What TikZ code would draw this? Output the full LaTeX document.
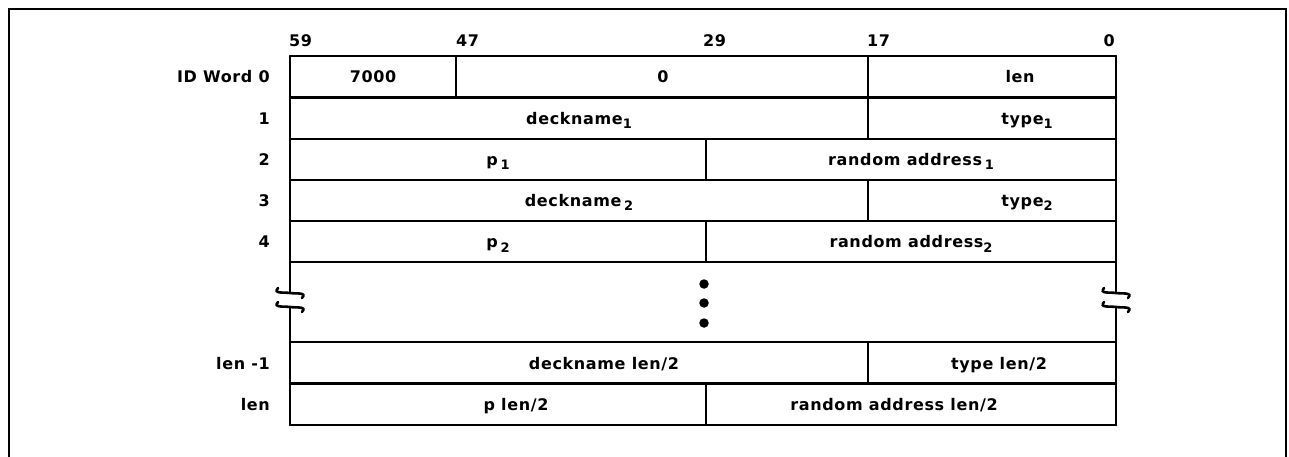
\documentclass[tikz,border=0pt]{standalone}
\usepackage{fontspec}
\setmainfont{DejaVu Sans}[LetterSpace=4,UprightFont=* Bold]
\newcommand{\subnum}[1]{\raisebox{-4.5pt}{\fontsize{13}{13}\selectfont #1}}
\begin{document}
\begin{tikzpicture}[x=1pt,y=-1pt,
  grid/.style={line width=2.4pt,line cap=round,line join=round},
  frame/.style={line width=2.2pt},
  txt/.style={font=\fontsize{16}{19}\selectfont,inner sep=0pt,anchor=base},
  lbl/.style={font=\fontsize{16}{19}\selectfont,inner sep=0pt,anchor=base east},
  bit/.style={font=\fontsize{16}{19}\selectfont,inner sep=0pt},
  brk/.style={line width=2.6pt,line cap=round},
  dot/.style={circle,fill=black,inner sep=0pt,minimum size=9.5pt}]
\useasboundingbox (0,0) rectangle (1289,457);
% outer frame (open at the bottom)
\draw[frame] (9,457) -- (9,9) -- (1286,9) -- (1286,457);
% column / row positions
\def\L{290}\def\Cf{456}\def\Ct{706}\def\Cs{868}\def\R{1116}
% horizontal rules
\foreach \y in {56,97.5,139,180,221,262,342,383.5,425}
  \draw[grid] (\L,\y) -- (\R,\y);
% outer verticals with breaks
\draw[grid] (\L,56) -- (\L,293);
\draw[grid] (\L,307) -- (\L,425);
\draw[grid] (\R,56) -- (\R,293);
\draw[grid] (\R,307) -- (\R,425);
\foreach \x in {\L,\R}{
  \foreach \y in {293,307}{
    \draw[brk] ([shift={(-12,-5)}]\x,\y) .. controls ([shift={(-17,1)}]\x,\y) and ([shift={(-7,-1)}]\x,\y) .. (\x,\y)
       .. controls ([shift={(7,1)}]\x,\y) and ([shift={(17,-1)}]\x,\y) .. ([shift={(12,5)}]\x,\y);
  }}
% internal verticals
\draw[grid] (\Cf,56) -- (\Cf,97.5);
\draw[grid] (\Cs,56) -- (\Cs,139);
\draw[grid] (\Ct,139) -- (\Ct,180);
\draw[grid] (\Cs,180) -- (\Cs,221);
\draw[grid] (\Ct,221) -- (\Ct,262);
\draw[grid] (\Cs,342) -- (\Cs,383.5);
\draw[grid] (\Ct,383.5) -- (\Ct,425);
% bit numbers
\node[bit,anchor=base west] (b59) at (289,47) {59};
\node[bit,anchor=base west] (b47) at (456,47) {47};
\node[bit,anchor=base west] (b29) at (703,47) {29};
\node[bit,anchor=base west] (b17) at (867,47) {17};
\node[bit,anchor=base east] (b0) at (1115,47) {0};
% row labels
\node[lbl] (r0) at (270,83) {ID Word 0};
\node[lbl] (r1) at (270,124.5) {1};
\node[lbl] (r2) at (270,165.5) {2};
\node[lbl] (r3) at (270,206.5) {3};
\node[lbl] (r4) at (270,247.5) {4};
\node[lbl] (r7) at (270,369) {len -1};
\node[lbl] (r8) at (270,410.5) {len};
% cell texts
\node[txt] (c00) at (373,83) {7000};
\node[txt] (c01) at (663,83) {0};
\node[txt] (c02) at (1020,83) {len};
\node[txt] (c10) at (579,124.5) {deckname\subnum{1}};
\node[txt] (c11) at (1027,124.5) {type\subnum{1}};
\node[txt] (c20) at (498,165.5) {p\,\subnum{1}};
\node[txt] (c21) at (911,165.5) {random address\,\subnum{1}};
\node[txt] (c30) at (579,206.5) {deckname\,\subnum{2}};
\node[txt] (c31) at (1027,206.5) {type\subnum{2}};
\node[txt] (c40) at (498,247.5) {p\,\subnum{2}};
\node[txt] (c41) at (911,247.5) {random address\subnum{2}};
\node[txt] (c70) at (604,369) {deckname len/2};
\node[txt] (c71) at (999,369) {type len/2};
\node[txt] (c80) at (516,410.5) {p len/2};
\node[txt] (c81) at (894,410.5) {random address len/2};
% continuation dots
\node[dot] (d1) at (704,284) {};
\node[dot] (d2) at (704,303) {};
\node[dot] (d3) at (704,323) {};
\end{tikzpicture}
\end{document}
